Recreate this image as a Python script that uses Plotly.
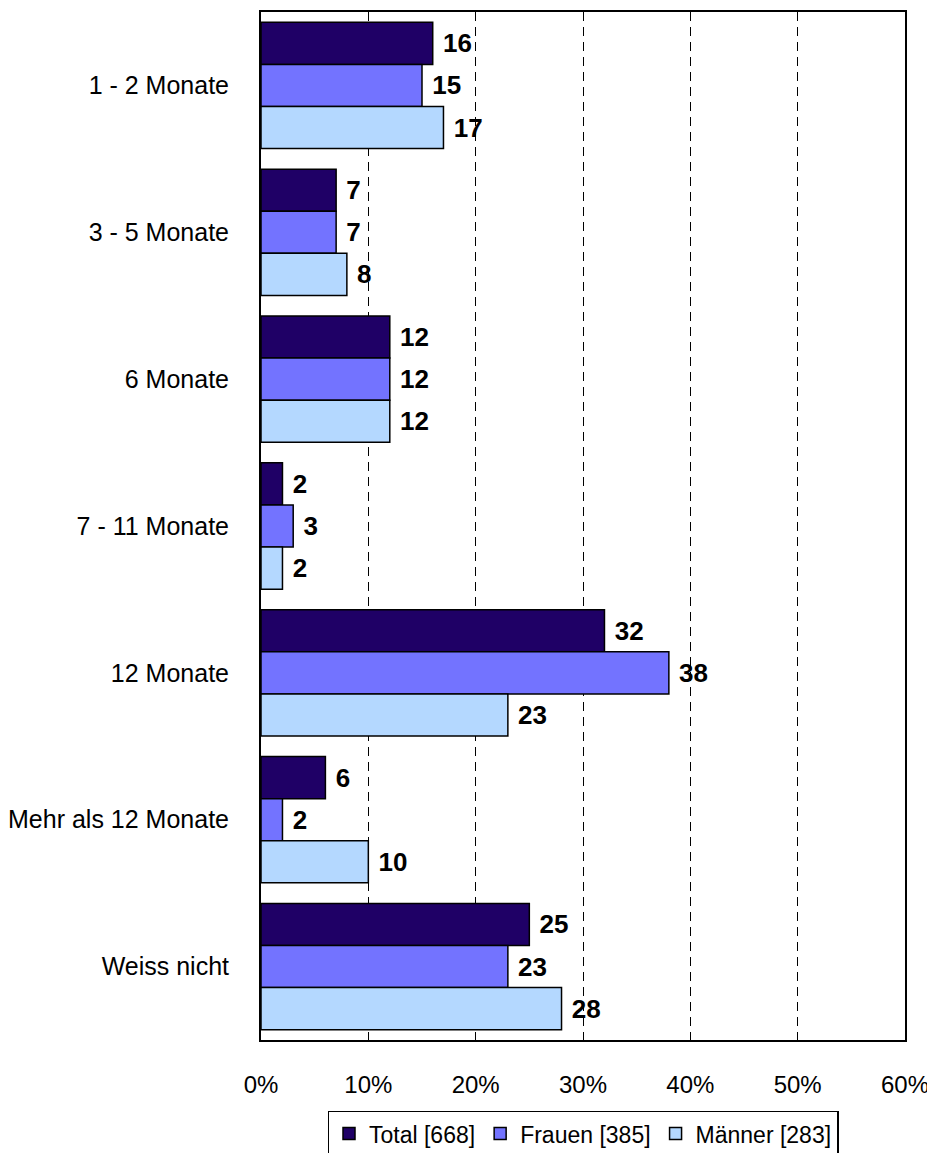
import plotly.graph_objects as go

# Kategorien (von oben nach unten)
categories = ["1 - 2 Monate", "3 - 5 Monate", "6 Monate", "7 - 11 Monate",
              "12 Monate", "Mehr als 12 Monate", "Weiss nicht"]

total = [16, 7, 12, 2, 32, 6, 25]
frauen = [15, 7, 12, 3, 38, 2, 23]
maenner = [17, 8, 12, 2, 23, 10, 28]

series_names = ["Total [668]", "Frauen [385]", "Männer [283]"]
series_colors = ["#1F0066", "#7373FF", "#B4D8FF"]

x_ticks = [0, 10, 20, 30, 40, 50, 60]
x_tick_labels = [f"{v}%" for v in x_ticks]

FONT = "Liberation Sans, Arial"

fig = go.Figure()

for name, values, color in zip(series_names, [total, frauen, maenner], series_colors):
    fig.add_trace(go.Bar(
        y=categories,
        x=values,
        name=name,
        orientation="h",
        marker=dict(color=color, line=dict(color="black", width=1.5)),
        text=values,
        texttemplate=" <b>%{text}</b>",
        textposition="outside",
        textfont=dict(size=26, color="black", family=FONT),
        cliponaxis=False,
    ))

# die Seite hat 8px Body-Rand, daher sind die Ränder etwas verschoben
fig.update_layout(
    width=935,
    height=1153,
    barmode="group",
    bargap=0.14,
    bargroupgap=0,
    plot_bgcolor="white",
    paper_bgcolor="white",
    font=dict(family=FONT, size=24, color="black"),
    margin=dict(l=253, r=38, t=4, b=116),
    showlegend=True,
    legend=dict(
        orientation="h",
        x=0.5, xanchor="center",
        y=-0.0687, yanchor="top",
        bordercolor="black", borderwidth=1.5,
        font=dict(size=23, family=FONT),
        itemwidth=30,
        tracegroupgap=0,
    ),
    xaxis=dict(
        range=[0, 60],
        tickmode="array",
        tickvals=x_ticks,
        ticktext=x_tick_labels,
        tickfont=dict(size=24),
        ticks="inside",
        ticklen=5,
        tickcolor="black",
        showline=True,
        linecolor="black",
        linewidth=2,
        mirror="ticks",
        showgrid=True,
        gridcolor="black",
        gridwidth=1,
        griddash="9px,6px",
        zeroline=False,
        ticklabelstandoff=22,
        automargin=False,
    ),
    yaxis=dict(
        autorange="reversed",
        showline=True,
        linecolor="black",
        linewidth=2,
        mirror=True,
        ticks="",
        tickfont=dict(size=25),
        ticklabelstandoff=25,
        automargin=False,
    ),
)

fig.write_html("out.html")
